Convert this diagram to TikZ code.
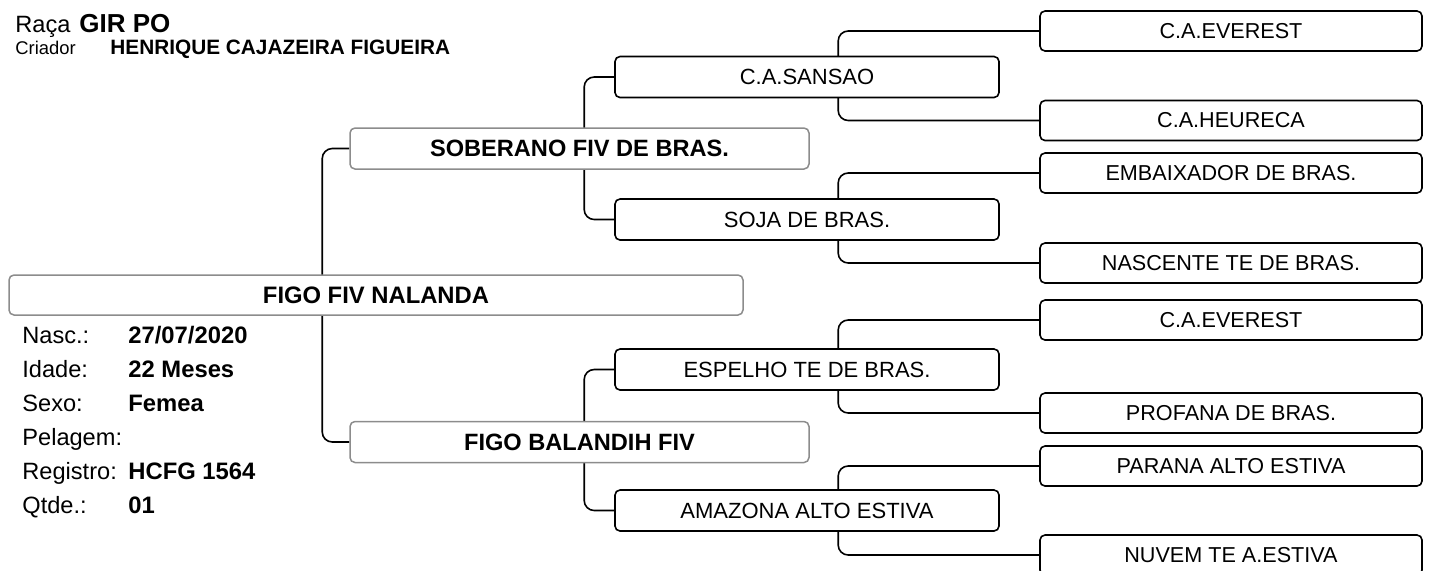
\documentclass[tikz,border=0pt]{standalone}
\usepackage{fontspec}
\setmainfont{Liberation Sans}
\usetikzlibrary{backgrounds}

\begin{document}
\begin{tikzpicture}[x=0.5pt, y=-0.5pt]
\tikzset{
animal/.style = {rectangle, draw=black!45, fill=white, rounded corners=2.5pt, line width=0.75pt, minimum width=367pt, minimum height=20pt, inner sep=0pt, font=\fontsize{11.9}{13}\selectfont\bfseries},
parent/.style = {rectangle, draw=black!45, fill=white, rounded corners=2.5pt, line width=0.75pt, minimum width=229.5pt, minimum height=20.5pt, inner sep=0pt, font=\fontsize{11.8}{13}\selectfont\bfseries},
grand/.style = {rectangle, draw, fill=white, rounded corners=2.5pt, line width=0.8pt, minimum width=192pt, minimum height=20.5pt, inner sep=0pt, font=\fontsize{11}{13}\selectfont},
great/.style = {rectangle, draw, fill=white, rounded corners=2.5pt, line width=0.8pt, minimum width=191pt, minimum height=20pt, inner sep=0pt, font=\fontsize{10.8}{13}\selectfont},
label/.style = {anchor=base west, inner sep=0pt, font=\fontsize{11.8}{13}\selectfont},
value/.style = {anchor=base west, inner sep=0pt, font=\fontsize{11.9}{13}\selectfont\bfseries},
line/.style = {draw, line width=0.8pt, rounded corners=5pt}
}
\useasboundingbox (0,0) rectangle (1429,570);

     % header
     \node [label, font=\fontsize{11.8}{14}\selectfont] (raca) at (15,32) {Raça};
     \node [value, font=\fontsize{13}{14}\selectfont\bfseries] (raca v) at (79,32) {GIR PO};
     \node [label, font=\fontsize{9.2}{11}\selectfont] (criador) at (15,54) {Criador};
     \node [value, font=\fontsize{10.4}{12}\selectfont\bfseries] (criador v) at (110,54) {HENRIQUE CAJAZEIRA FIGUEIRA};

     % animal
     \node [animal] (animal) at (376,295) {FIGO FIV NALANDA};
     \node [label] (nasc) at (22,343) {Nasc.:};
     \node [value] (nasc v) at (128,343) {27/07/2020};
     \node [label] (idade) at (22,377) {Idade:};
     \node [value] (idade v) at (128,377) {22 Meses};
     \node [label] (sexo) at (22,411) {Sexo:};
     \node [value] (sexo v) at (128,411) {Femea};
     \node [label] (pelagem) at (22,445) {Pelagem:};
     \node [label] (registro) at (22,479) {Registro:};
     \node [value] (registro v) at (128,479) {HCFG 1564};
     \node [label] (qtde) at (22,513) {Qtde.:};
     \node [value] (qtde v) at (128,513) {01};

     % parents
     \node [parent] (p) at (579.5,148.5) {SOBERANO FIV DE BRAS.};
     \node [parent] (m) at (579.5,442) {FIGO BALANDIH FIV};

     % grandparents
     \node [grand] (pp) at (807,77) {C.A.SANSAO};
     \node [grand] (pm) at (807,219.5) {SOJA DE BRAS.};
     \node [grand] (mp) at (807,369.5) {ESPELHO TE DE BRAS.};
     \node [grand] (mm) at (807,510.5) {AMAZONA ALTO ESTIVA};

     % great-grandparents
     \node [great] (ppp) at (1231,31) {C.A.EVEREST};
     \node [great] (ppm) at (1231,120.5) {C.A.HEURECA};
     \node [great] (pmp) at (1231,173) {EMBAIXADOR DE BRAS.};
     \node [great] (pmm) at (1231,263) {NASCENTE TE DE BRAS.};
     \node [great] (mpp) at (1231,320) {C.A.EVEREST};
     \node [great] (mpm) at (1231,413) {PROFANA DE BRAS.};
     \node [great] (mmp) at (1231,466) {PARANA ALTO ESTIVA};
     \node [great] (mmm) at (1231,555) {NUVEM TE A.ESTIVA};

     \begin{scope}[on background layer]
     \path [line] (p.west) -- ++(-27,0) |- (m.west);
     \path [line] (pp.west) -- ++(-30,0) |- (pm.west);
     \path [line] (mp.west) -- ++(-30,0) |- (mm.west);
     \path [line] (ppp.west) -- ++(-201,0) |- (ppm.west);
     \path [line] (pmp.west) -- ++(-201,0) |- (pmm.west);
     \path [line] (mpp.west) -- ++(-201,0) |- (mpm.west);
     \path [line] (mmp.west) -- ++(-201,0) |- (mmm.west);
     \end{scope}
\end{tikzpicture}
\end{document}
